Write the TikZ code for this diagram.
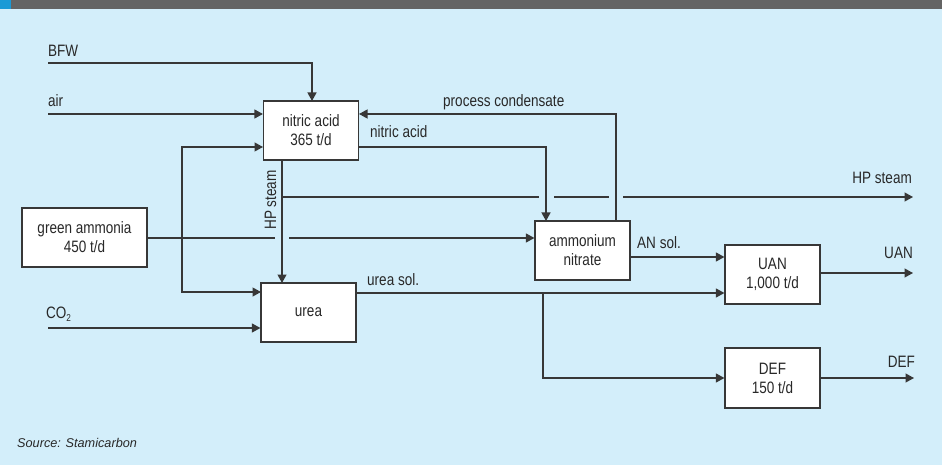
\documentclass[tikz,border=0pt]{standalone}
\usepackage{fontspec}
\setmainfont[FakeStretch=0.82]{Liberation Sans}
\newfontfamily\srcfont{Liberation Sans}
\usetikzlibrary{arrows.meta}
\definecolor{bg}{RGB}{211,238,250}
\definecolor{hdr}{RGB}{100,100,100}
\definecolor{hdrblue}{RGB}{26,154,214}
\definecolor{ln}{RGB}{55,55,55}
\definecolor{txt}{RGB}{40,40,40}
\tikzset{
  box/.style={draw=ln, line width=1.2pt, fill=white, minimum width=95pt, minimum height=59pt,
    inner sep=0pt, align=center, text=txt, font=\fontsize{16.5}{19}\selectfont},
  lbl/.style={inner sep=0pt, text=txt, font=\fontsize{16.5}{19}\selectfont},
  conn/.style={draw=ln, line width=1.2pt},
  arr/.style={conn, -{Triangle[length=8.5pt,width=9pt]}},
}
\begin{document}
\begin{tikzpicture}[x=1pt,y=-1pt]
\useasboundingbox (0,0) rectangle (942,465);
\fill[bg] (0,0) rectangle (942,465);
\fill[hdr] (0,0) rectangle (942,9);
\fill[hdrblue] (0,0) rectangle (11,9);

% boxes
\node[box] (nitric) at (311,130.5) {nitric acid\\365 t/d};
\node[box] (an) at (582.5,250.5) {ammonium\\nitrate};
\node[box] (uan) at (772.5,274.5) {UAN\\1,000 t/d};
\node[box, minimum height=60pt] (def) at (772.5,378) {DEF\\150 t/d};
\node[box] (urea) at (308.5,312.5) {urea};
\node[box, minimum width=125pt] (ga) at (84.5,237.5) {green ammonia\\450 t/d};

% coordinates
\coordinate (bfw) at (48,63);
\coordinate (air) at (48,114);
\coordinate (co2) at (48,328);
\coordinate (j) at (182,238);
\coordinate (ntop) at (312,101);
\coordinate (nin2) at (263,147);
\coordinate (uin1) at (261,292);
\coordinate (hp0) at (282,160);
\coordinate (hp1) at (282,283);
\coordinate (hpj) at (282,197);
\coordinate (hpg1) at (539,197);
\coordinate (hpg2) at (554,197);
\coordinate (hpg3) at (609,197);
\coordinate (hpg4) at (623,197);
\coordinate (hpend) at (913,197);
\coordinate (nout) at (359,147);
\coordinate (antop) at (546,221);
\coordinate (pc0) at (616,221);
\coordinate (pcin) at (359,114);
\coordinate (amg1) at (275,238);
\coordinate (amg2) at (289,238);
\coordinate (ansol) at (630,257);
\coordinate (usol) at (356,293);
\coordinate (ub) at (543,293);
\coordinate (uanout) at (913,273);
\coordinate (defout) at (914,378);

% connectors
\draw[arr] (bfw) -| (ntop);
\draw[arr] (air) -- (air -| nitric.west);
\draw[arr] (j) |- (nin2);
\draw[arr] (j) |- (uin1);
\draw[conn] (ga.east |- j) -- (amg1);
\draw[arr] (amg2) -- (amg2 -| an.west);
\draw[arr] (hp0) -- (hp1);
\draw[conn] (hpj) -- (hpg1);
\draw[conn] (hpg2) -- (hpg3);
\draw[arr] (hpg4) -- (hpend);
\draw[arr] (nout) -| (antop);
\draw[arr] (pc0) |- (pcin);
\draw[arr] (ansol) -- (ansol -| uan.west);
\draw[arr] (usol) -- (usol -| uan.west);
\draw[arr] (ub) |- (def.west);
\draw[arr] (co2) -- (co2 -| urea.west);
\draw[arr] (uanout -| uan.east) -- (uanout);
\draw[arr] (def.east) -- (defout);

% labels
\node[lbl, anchor=base west] (lbfw) at (48,57) {BFW};
\node[lbl, anchor=base west] (lair) at (48,107) {air};
\node[lbl, anchor=base west] (lco2) at (46,318) {CO\raisebox{-0.35ex}{\fontsize{10}{10}\selectfont 2}};
\node[lbl, anchor=base west] (lpc) at (443,107) {process condensate};
\node[lbl, anchor=base west] (lna) at (370,138) {nitric acid};
\node[lbl, rotate=90] (lhp) at (270.5,200) {HP steam};
\node[lbl, anchor=base east] (lhpo) at (912,184) {HP steam};
\node[lbl, anchor=base west] (lans) at (637,248) {AN sol.};
\node[lbl, anchor=base east] (luan) at (913,258) {UAN};
\node[lbl, anchor=base west] (lus) at (367,285) {urea sol.};
\node[lbl, anchor=base east] (ldef) at (915,367) {DEF};
\node[inner sep=0pt, anchor=base west, text=txt, font=\srcfont\itshape\fontsize{12.7}{15}\selectfont] (src) at (17,447) {Source: Stamicarbon};
\end{tikzpicture}
\end{document}
